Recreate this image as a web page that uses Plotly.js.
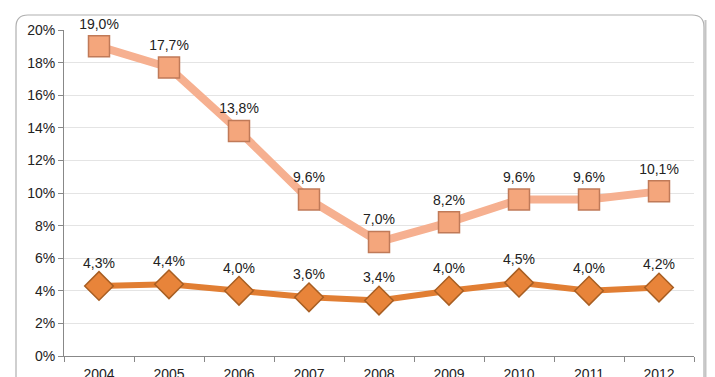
<!DOCTYPE html>
<html>
<head>
<meta charset="utf-8">
<script src="https://cdn.plot.ly/plotly-3.0.1.min.js"></script>
<style>html,body{margin:0;padding:0;background:#fff;}#chart{width:715px;height:377px;}</style>
</head>
<body>
<div id="chart"></div>
<script>
var years = ['2004','2005','2006','2007','2008','2009','2010','2011','2012'];
var seriesUpper = [19.0, 17.7, 13.8, 9.6, 7.0, 8.2, 9.6, 9.6, 10.1];
var seriesLower = [4.3, 4.4, 4.0, 3.6, 3.4, 4.0, 4.5, 4.0, 4.2];
var yTicks = [0, 2, 4, 6, 8, 10, 12, 14, 16, 18, 20];
var yTickText = ['0%', '2%', '4%', '6%', '8%', '10%', '12%', '14%', '16%', '18%', '20%'];

var font = 'Liberation Sans, Arial, sans-serif';

var traces = [
  {
    x: years, y: seriesUpper, type: 'scatter', mode: 'lines+markers+text',
    line: {color: '#F6B090', width: 8},
    marker: {symbol: 'square', size: 21, color: '#F4A67C', line: {color: '#C07A58', width: 1.5}},
    texttemplate: '%{y:.1f}%', textposition: 'top center',
    textfont: {family: font, size: 14, color: '#222'},
    cliponaxis: false, hoverinfo: 'skip'
  },
  {
    x: years, y: seriesLower, type: 'scatter', mode: 'lines+markers+text',
    line: {color: '#E17E33', width: 6},
    marker: {symbol: 'diamond', size: 22, color: '#E8843A', line: {color: '#A85E22', width: 1.5}},
    texttemplate: '%{y:.1f}%', textposition: 'top center',
    textfont: {family: font, size: 14, color: '#222'},
    cliponaxis: false, hoverinfo: 'skip'
  }
];

function px(x){ return (x-64)/630; }
function py(y){ return (356-y)/326; }
var r = 12;
var path = 'M ' + px(16) + ' ' + py(400) +
  ' L ' + px(16) + ' ' + py(15+r) +
  ' Q ' + px(16) + ' ' + py(15) + ' ' + px(16+r) + ' ' + py(15) +
  ' L ' + px(704-r) + ' ' + py(15) +
  ' Q ' + px(704) + ' ' + py(15) + ' ' + px(704) + ' ' + py(15+r) +
  ' L ' + px(704) + ' ' + py(400);

var layout = {
  width: 715, height: 377,
  margin: {l: 64, r: 21, t: 30, b: 21},
  paper_bgcolor: '#fff', plot_bgcolor: '#fff',
  showlegend: false,
  separators: ', ',
  font: {family: font, size: 14, color: '#333'},
  xaxis: {
    type: 'category', tickson: 'boundaries', ticks: 'outside', ticklen: 5,
    tickcolor: '#888', showline: true, linecolor: '#888', linewidth: 1,
    showgrid: false, tickfont: {family: font, size: 14, color: '#222'},
    ticklabelstandoff: 5,
    range: [-0.5, 8.5], fixedrange: true
  },
  yaxis: {
    range: [0, 20], tickmode: 'array', tickvals: yTicks, ticktext: yTickText,
    ticks: 'outside', ticklen: 5,
    tickcolor: '#888', showline: true, linecolor: '#888', linewidth: 1,
    showgrid: true, gridcolor: '#E4E4E4', gridwidth: 1, zeroline: false,
    tickfont: {family: font, size: 14, color: '#222'}, fixedrange: true
  },
  shapes: [
    {type: 'path', xref: 'paper', yref: 'paper', path: path, line: {color: '#B0B0B0', width: 1.2}, layer: 'below'},
    {type: 'line', xref: 'paper', yref: 'paper', x0: px(705.5), x1: px(705.5), y0: py(20), y1: py(400), line: {color: '#C4C4C4', width: 2}, layer: 'below'}
  ]
};

Plotly.newPlot('chart', traces, layout, {staticPlot: true, displayModeBar: false});
</script>
</body>
</html>
